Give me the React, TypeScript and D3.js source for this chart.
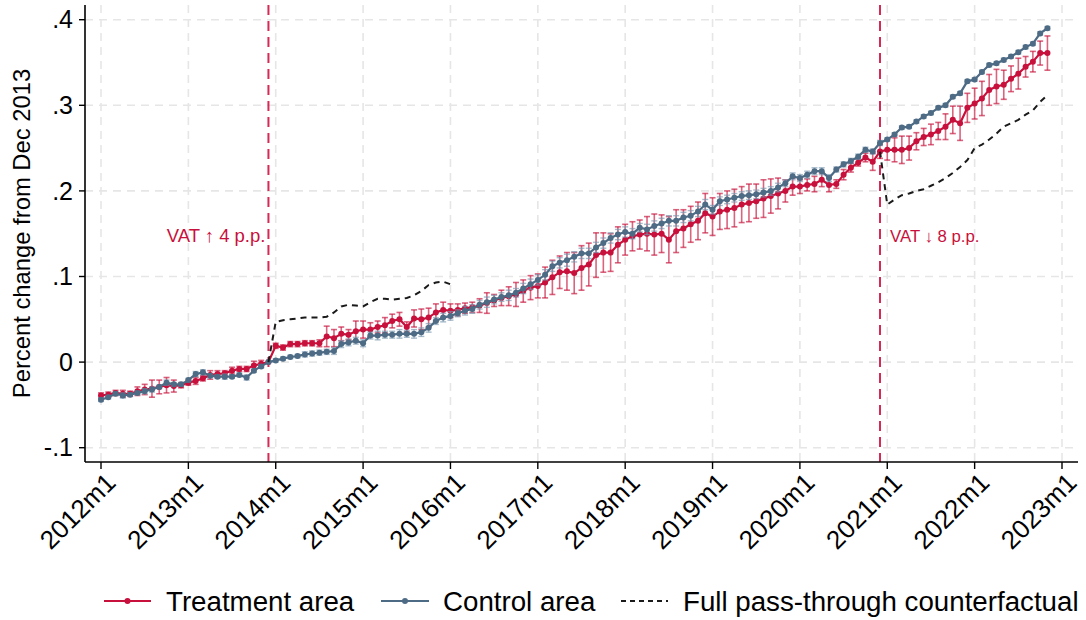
import React from "react";
import * as d3 from "d3";

// ---------- DATA (months since 2012m1) ----------
const startYear = 2012;
const xTickYears = [2012, 2013, 2014, 2015, 2016, 2017, 2018, 2019, 2020, 2021, 2022, 2023];
const yTicks = [-0.1, 0, 0.1, 0.2, 0.3, 0.4];
const yTickLabels = ["-.1", "0", ".1", ".2", ".3", ".4"];
const eventMonths = [23, 107]; // 2013m12, 2020m12
const eventLabels = ["VAT \u2191 4 p.p.", "VAT \u2193 8 p.p."];

const treatment = [
  -0.039, -0.038, -0.036, -0.037, -0.037, -0.034, -0.032, -0.031, -0.029, -0.027, -0.028, -0.027,
  -0.024, -0.022, -0.019, -0.015, -0.014, -0.013, -0.010, -0.008, -0.008, -0.004, -0.002, 0,
  0.019, 0.017, 0.021, 0.021, 0.022, 0.022, 0.022, 0.030, 0.028, 0.033, 0.032, 0.036, 0.038, 0.038,
  0.041, 0.043, 0.048, 0.050, 0.041, 0.051, 0.050, 0.052, 0.058, 0.061, 0.060,
  0.061, 0.063, 0.064, 0.066, 0.069, 0.072, 0.075, 0.077, 0.079, 0.083, 0.087, 0.089, 0.093, 0.099,
  0.105, 0.106, 0.104, 0.110, 0.114, 0.125, 0.128, 0.128, 0.137, 0.143, 0.147, 0.149, 0.150, 0.149,
  0.150, 0.143, 0.153, 0.156, 0.161, 0.165, 0.174, 0.170,
  0.176, 0.178, 0.180, 0.184, 0.186, 0.188, 0.191, 0.194, 0.197, 0.200, 0.205, 0.205, 0.207, 0.208,
  0.213, 0.207, 0.208, 0.219, 0.227, 0.233, 0.239, 0.234, 0.246,
  0.248, 0.248, 0.248, 0.250, 0.258, 0.263, 0.266, 0.270, 0.275, 0.283, 0.279, 0.297, 0.302, 0.308,
  0.318, 0.322, 0.324, 0.331, 0.337, 0.345, 0.351, 0.361, 0.361,
];

const treatmentCI = [
  0.003, 0.003, 0.003, 0.004, 0.003,
  0.005, 0.006, 0.010, 0.008, 0.009, 0.007, 0.003,
  0.003, 0.004, 0.003, 0.005, 0.004, 0.003, 0.004, 0.003, 0.003, 0.005, 0.004, 0.0,
  0.003, 0.003, 0.003, 0.003, 0.003, 0.003, 0.004,
  0.012, 0.010, 0.008, 0.006, 0.012, 0.010, 0.008, 0.007, 0.009, 0.008, 0.008, 0.006, 0.010, 0.012, 0.011, 0.010, 0.009,
  0.008, 0.007, 0.006, 0.006, 0.008, 0.012, 0.007, 0.009, 0.011, 0.014, 0.013, 0.014,
  0.014, 0.018, 0.020, 0.019, 0.022, 0.024, 0.026, 0.025, 0.026, 0.023, 0.022, 0.021,
  0.018, 0.017, 0.017, 0.020, 0.024, 0.022, 0.027, 0.025, 0.022, 0.021, 0.022, 0.023,
  0.022, 0.021, 0.022, 0.022, 0.021, 0.022, 0.020, 0.022, 0.020, 0.018, 0.013, 0.010,
  0.008, 0.007, 0.009, 0.008, 0.008, 0.005, 0.006, 0.005, 0.004, 0.005, 0.010, 0.008,
  0.012, 0.014, 0.016, 0.014, 0.010, 0.010, 0.012, 0.010, 0.015, 0.016, 0.020, 0.017,
  0.018, 0.020, 0.018, 0.020, 0.017, 0.015, 0.018, 0.012, 0.012, 0.014, 0.020,
];

const control = [
  -0.044, -0.041, -0.037, -0.039, -0.038, -0.036, -0.034, -0.032, -0.029, -0.024, -0.026, -0.026,
  -0.021, -0.014, -0.012, -0.016, -0.017, -0.017, -0.017, -0.015, -0.018, -0.010, -0.005, 0,
  0.002, 0.004, 0.006, 0.007, 0.009, 0.010, 0.011, 0.012, 0.013, 0.021, 0.023, 0.025, 0.022, 0.031,
  0.031, 0.032, 0.032, 0.033, 0.033, 0.033, 0.035, 0.040, 0.048, 0.052, 0.054,
  0.057, 0.060, 0.062, 0.067, 0.070, 0.073, 0.076, 0.078, 0.081, 0.086, 0.091, 0.096, 0.102, 0.112,
  0.116, 0.119, 0.123, 0.127, 0.127, 0.134, 0.139, 0.145, 0.149, 0.152, 0.150, 0.157, 0.155, 0.159,
  0.162, 0.165, 0.165, 0.169, 0.171, 0.176, 0.184, 0.178,
  0.188, 0.190, 0.192, 0.194, 0.195, 0.196, 0.198, 0.200, 0.204, 0.209, 0.217, 0.215, 0.219, 0.223,
  0.223, 0.215, 0.225, 0.231, 0.235, 0.240, 0.248, 0.246, 0.256,
  0.260, 0.266, 0.274, 0.275, 0.281, 0.287, 0.291, 0.297, 0.300, 0.310, 0.314, 0.328, 0.330, 0.339,
  0.347, 0.349, 0.353, 0.357, 0.362, 0.368, 0.372, 0.384, 0.390,
];

const controlCI = [
  0.002, 0.002, 0.002, 0.003, 0.002, 0.002, 0.003, 0.003, 0.002, 0.003, 0.002, 0.002,
  0.002, 0.003, 0.003, 0.002, 0.002, 0.003, 0.002, 0.002, 0.003, 0.002, 0.002, 0.0,
  0.002, 0.002, 0.002, 0.002, 0.003, 0.003, 0.003, 0.003, 0.004, 0.004, 0.004, 0.004,
  0.004, 0.004, 0.005, 0.004, 0.004, 0.005, 0.004, 0.005, 0.005, 0.005, 0.004, 0.005,
  0.005, 0.004, 0.005, 0.005, 0.005, 0.006, 0.005, 0.005, 0.006, 0.005, 0.006, 0.006,
  0.006, 0.006, 0.006, 0.006, 0.007, 0.006, 0.006, 0.006, 0.006, 0.006, 0.006, 0.006,
  0.006, 0.006, 0.005, 0.006, 0.006, 0.006, 0.006, 0.006, 0.006, 0.006, 0.006, 0.006,
  0.005, 0.005, 0.005, 0.005, 0.005, 0.005, 0.005, 0.005, 0.005, 0.005, 0.004, 0.004,
  0.004, 0.004, 0.004, 0.004, 0.004, 0.003, 0.003, 0.003, 0.003, 0.003, 0.003, 0.003,
  0.002, 0.002, 0.002, 0.002, 0.002, 0.002, 0.002, 0.002, 0.002, 0.002, 0.002, 0.002,
  0.002, 0.002, 0.002, 0.002, 0.002, 0.002, 0.002, 0.002, 0.002, 0.002, 0.002,
];

const counterfactual1Start = 23;
const counterfactual1 = [
  0, 0.047, 0.049, 0.050, 0.051, 0.052, 0.052, 0.052, 0.053, 0.058, 0.065, 0.067, 0.066,
  0.065, 0.070, 0.074, 0.074, 0.073, 0.074, 0.075, 0.078, 0.083, 0.090, 0.093, 0.094, 0.091,
];
const counterfactual2Start = 107;
const counterfactual2 = [
  0.246, 0.184, 0.190, 0.195, 0.197, 0.200, 0.202, 0.206, 0.210, 0.215, 0.221, 0.228,
  0.236, 0.250, 0.254, 0.260, 0.267, 0.275, 0.279, 0.283, 0.289, 0.294, 0.304, 0.312,
];

const legendLabels = ["Treatment area", "Control area", "Full pass-through counterfactual"];

// ---------- STYLE ----------
const W = 1086;
const H = 620;
const FONT = "Arial, 'Liberation Sans', Helvetica, sans-serif";
const RED = "#c8103c";
const RED_CI = "rgba(200, 25, 65, 0.68)";
const BLUE = "#4d6b84";
const BLUE_CI = "rgba(120, 150, 175, 0.65)";
const VLINE = "#d42a55";
const GRID = "#e6e6e6";

const plot = { left: 85, right: 1078, top: 5, bottom: 462 };

export default function App() {
  const x = d3.scaleLinear().domain([0, 132]).range([101, 1062]);
  const y = d3.scaleLinear().domain([-0.1, 0.4]).range([447.7, 19.7]);

  const tPts = treatment.map((v, i) => ({ m: i, v, ci: treatmentCI[i] }));
  const cPts = control.map((v, i) => ({ m: i, v, ci: controlCI[i] }));
  const line = d3
    .line<{ m: number; v: number }>()
    .x((d) => x(d.m))
    .y((d) => y(d.v));
  const cf1 = counterfactual1.map((v, i) => ({ m: counterfactual1Start + i, v }));
  const cf2 = counterfactual2.map((v, i) => ({ m: counterfactual2Start + i, v }));

  const xTickMonths = xTickYears.map((yr) => (yr - startYear) * 12);
  const cap = 3;

  const legendY = 601;

  return (
    <svg width={W} height={H} style={{ display: "block", position: "absolute", left: 0, top: 0, background: "#fff" }} fontFamily={FONT}>
      <rect width={W} height={H} fill="#fff" />
      {/* grid */}
      {yTicks.map((t) => (
        <line key={"gy" + t} x1={plot.left} x2={plot.right} y1={y(t)} y2={y(t)} stroke={GRID} strokeWidth={1.6} strokeDasharray="8,6" />
      ))}
      {xTickMonths.map((m) => (
        <line key={"gx" + m} x1={x(m)} x2={x(m)} y1={plot.top} y2={plot.bottom} stroke={GRID} strokeWidth={1.6} strokeDasharray="8,6" />
      ))}
      {/* event lines */}
      {eventMonths.map((m) => (
        <line key={"ev" + m} x1={x(m)} x2={x(m)} y1={plot.top} y2={plot.bottom} stroke={VLINE} strokeWidth={2} strokeDasharray="10,6" />
      ))}
      <text x={x(eventMonths[0]) - 3} y={242} fontSize={18.5} fill={RED} textAnchor="end">{eventLabels[0]}</text>
      <text x={x(eventMonths[1]) + 10} y={242} fontSize={16.8} fill={RED} textAnchor="start">{eventLabels[1]}</text>

      {/* treatment CI */}
      {tPts.filter((d) => d.ci > 0).map((d) => (
        <g key={"tci" + d.m} stroke={RED_CI} strokeWidth={1.6}>
          <line x1={x(d.m)} x2={x(d.m)} y1={y(d.v - d.ci)} y2={y(d.v + d.ci)} />
          <line x1={x(d.m) - cap} x2={x(d.m) + cap} y1={y(d.v - d.ci)} y2={y(d.v - d.ci)} />
          <line x1={x(d.m) - cap} x2={x(d.m) + cap} y1={y(d.v + d.ci)} y2={y(d.v + d.ci)} />
        </g>
      ))}
      <path d={line(tPts) || ""} fill="none" stroke={RED} strokeWidth={2.2} />
      {tPts.map((d) => (
        <circle key={"tp" + d.m} cx={x(d.m)} cy={y(d.v)} r={3} fill={RED} />
      ))}

      {/* control CI */}
      {cPts.filter((d) => d.ci > 0).map((d) => (
        <g key={"cci" + d.m} stroke={BLUE_CI} strokeWidth={1.4}>
          <line x1={x(d.m)} x2={x(d.m)} y1={y(d.v - d.ci)} y2={y(d.v + d.ci)} />
          <line x1={x(d.m) - cap} x2={x(d.m) + cap} y1={y(d.v - d.ci)} y2={y(d.v - d.ci)} />
          <line x1={x(d.m) - cap} x2={x(d.m) + cap} y1={y(d.v + d.ci)} y2={y(d.v + d.ci)} />
        </g>
      ))}
      <path d={line(cPts) || ""} fill="none" stroke={BLUE} strokeWidth={2.2} />
      {cPts.map((d) => (
        <circle key={"cp" + d.m} cx={x(d.m)} cy={y(d.v)} r={3} fill={BLUE} />
      ))}

      {/* counterfactual */}
      <path d={line(cf1) || ""} fill="none" stroke="#1a1a1a" strokeWidth={2} strokeDasharray="6,5" />
      <path d={line(cf2) || ""} fill="none" stroke="#1a1a1a" strokeWidth={2} strokeDasharray="6,5" />

      {/* axes */}
      <line x1={plot.left} x2={plot.left} y1={plot.top} y2={plot.bottom} stroke="#000" strokeWidth={1.6} />
      <line x1={plot.left} x2={plot.right} y1={plot.bottom} y2={plot.bottom} stroke="#000" strokeWidth={1.6} />
      {yTicks.map((t, i) => (
        <g key={"yt" + t}>
          <line x1={plot.left - 6} x2={plot.left} y1={y(t)} y2={y(t)} stroke="#000" strokeWidth={1.4} />
          <text x={plot.left - 12} y={y(t)} dy="0.35em" fontSize={25} textAnchor="end" fill="#000">{yTickLabels[i]}</text>
        </g>
      ))}
      {xTickMonths.map((m, i) => (
        <g key={"xt" + m}>
          <line x1={x(m)} x2={x(m)} y1={plot.bottom} y2={plot.bottom + 7} stroke="#000" strokeWidth={1.4} />
          <text transform={`translate(${x(m) + 3},${plot.bottom + 9}) rotate(-45)`} fontSize={26} textAnchor="end" dy="0.72em" fill="#000">
            {`${xTickYears[i]}m1`}
          </text>
        </g>
      ))}
      <text transform={`translate(30,${(plot.top + plot.bottom) / 2}) rotate(-90)`} fontSize={23.8} textAnchor="middle" fill="#000">
        Percent change from Dec 2013
      </text>

      {/* legend */}
      <line x1={104} x2={151} y1={legendY} y2={legendY} stroke={RED} strokeWidth={2.2} />
      <circle cx={127.5} cy={legendY} r={3} fill={RED} />
      <text x={166} y={legendY} dy="0.36em" fontSize={27.7} fill="#000">{legendLabels[0]}</text>
      <line x1={381} x2={429} y1={legendY} y2={legendY} stroke={BLUE} strokeWidth={2.2} />
      <circle cx={405} cy={legendY} r={3} fill={BLUE} />
      <text x={443} y={legendY} dy="0.36em" fontSize={27.7} fill="#000">{legendLabels[1]}</text>
      <line x1={621} x2={668} y1={legendY} y2={legendY} stroke="#1a1a1a" strokeWidth={2} strokeDasharray="5,4" />
      <text x={683} y={legendY} dy="0.36em" fontSize={27.7} fill="#000">{legendLabels[2]}</text>
    </svg>
  );
}
